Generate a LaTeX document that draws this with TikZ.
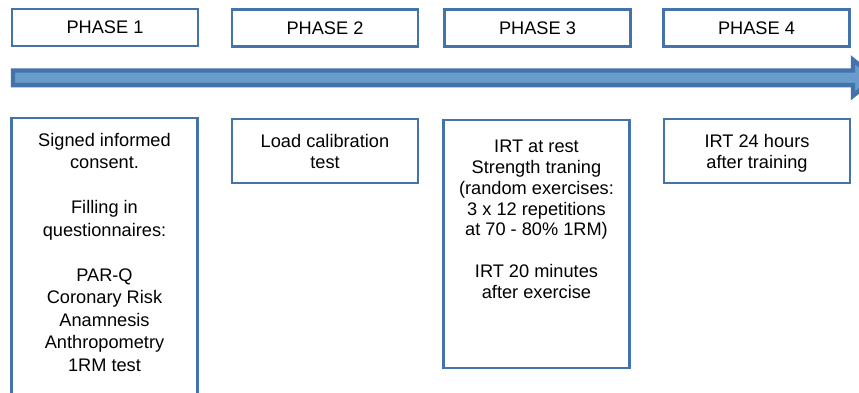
\documentclass[tikz,border=0pt]{standalone}
\usepackage{fontspec}
\setmainfont{Liberation Sans}
\usepackage{tikz}
\usepackage{xcolor}
\definecolor{boxblue}{RGB}{68,114,170}
\definecolor{barblue}{RGB}{104,156,204}

\begin{document}
\begin{tikzpicture}[x=0.5pt, y=-0.5pt,
    phasebox/.style={draw=boxblue, line width=1.2pt, fill=white, minimum width=93pt, minimum height=18.5pt, inner sep=0pt, font=\fontsize{9.1}{10.8}\selectfont},
    actbox/.style={draw=boxblue, line width=1.2pt, fill=white, minimum width=93pt, inner sep=0pt},
    acttext/.style={anchor=north, align=center, inner sep=0pt, font=\fontsize{9.1}{10.8}\selectfont}]
    \useasboundingbox (0,0) rectangle (859,392);
    \clip (0,0) rectangle (859,392);

    % phase headers
    \node[phasebox] (ph1) at (105,27.5) {PHASE 1};
    \node[phasebox] (ph2) at (325,28) {PHASE 2};
    \node[phasebox] (ph3) at (537.5,28) {PHASE 3};
    \node[phasebox] (ph4) at (756.5,28) {PHASE 4};

    % time line
    \coordinate (tstart) at (13,77.8);
    \coordinate (tend) at (853,77.8);
    \draw[boxblue, line width=2.2pt, fill=barblue, line join=miter]
        ([yshift=3.65pt]tstart) -- ([yshift=3.65pt]tend) -- ([yshift=9pt]tend)
        -- ([xshift=11pt]tend) -- ([yshift=-9pt]tend) -- ([yshift=-3.65pt]tend)
        -- ([yshift=-3.65pt]tstart) -- cycle;

    % activities
    \node[actbox, minimum height=151pt] (act1) at (104.5,269) {};
    \node[actbox, minimum height=32pt] (act2) at (325,151) {};
    \node[actbox, minimum height=124pt] (act3) at (536.5,244) {};
    \node[actbox, minimum height=32pt] (act4) at (757,151) {};

    \node[acttext, font=\fontsize{9.1}{11.25}\selectfont] (act1txt) at ([yshift=-8pt]act1.north) {Signed informed\\ consent.\\[11.25pt] Filling in\\ questionnaires:\\[11.25pt] PAR-Q\\ Coronary Risk\\ Anamnesis\\ Anthropometry\\ 1RM test};
    \node[acttext] (act2txt) at ([yshift=-8pt]act2.north) {Load calibration\\ test};
    \node[acttext, font=\fontsize{9.1}{10.4}\selectfont] (act3txt) at ([yshift=-10.5pt]act3.north) {IRT at rest\\ Strength traning\\ (random exercises:\\ 3 x 12 repetitions\\ at 70 - 80\% 1RM)\\[10.4pt] IRT 20 minutes\\ after exercise};
    \node[acttext] (act4txt) at ([yshift=-8pt]act4.north) {IRT 24 hours\\ after training};
\end{tikzpicture}
\end{document}
